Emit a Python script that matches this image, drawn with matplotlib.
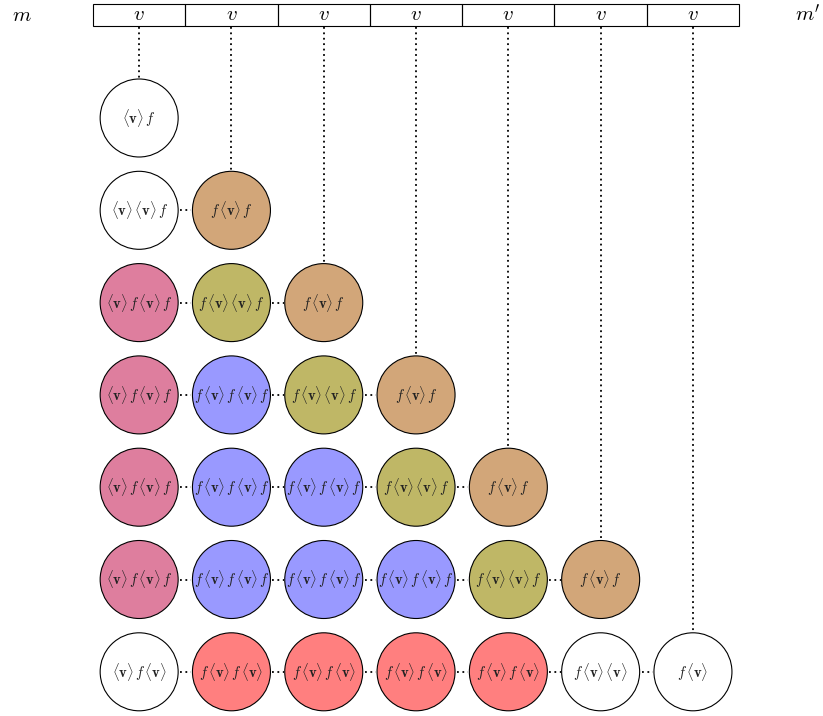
import matplotlib
matplotlib.use("Agg")
import matplotlib.pyplot as plt
from matplotlib.patches import Circle, Rectangle

plt.rcParams['mathtext.fontset'] = 'cm'

# cell contents per row (row i has i+1 circles)
WH = "#ffffff"
TAN = "#d2a679"
PINK = "#de7e9e"
OLIVE = "#bfb766"
BLUE = "#9999ff"
RED = "#ff7f7f"

V = r"\langle\mathbf{v}\rangle"
A = "$" + V + r"\, f$"
AA = "$" + V + r"\," + V + r"\, f$"
FAF = r"$f\," + V + r"\, f$"
AFAF = "$" + V + r"\, f\," + V + r"\, f$"
FAAF = r"$f\," + V + r"\," + V + r"\, f$"
FAFAF = r"$f\," + V + r"\, f\," + V + r"\, f$"
AFA = "$" + V + r"\, f\," + V + "$"
FAFA = r"$f\," + V + r"\, f\," + V + "$"
FAA = r"$f\," + V + r"\," + V + "$"
FA = r"$f\," + V + "$"

labels = [
    [A],
    [AA, FAF],
    [AFAF, FAAF, FAF],
    [AFAF, FAFAF, FAAF, FAF],
    [AFAF, FAFAF, FAFAF, FAAF, FAF],
    [AFAF, FAFAF, FAFAF, FAFAF, FAAF, FAF],
    [AFA, FAFA, FAFA, FAFA, FAFA, FAA, FA],
]
colors = [
    [WH],
    [WH, TAN],
    [PINK, OLIVE, TAN],
    [PINK, BLUE, OLIVE, TAN],
    [PINK, BLUE, BLUE, OLIVE, TAN],
    [PINK, BLUE, BLUE, BLUE, OLIVE, TAN],
    [WH, RED, RED, RED, RED, WH, WH],
]
top_labels = [r"$v$"] * 7

fig = plt.figure(figsize=(8.23, 7.16), dpi=100)
ax = fig.add_axes([0, 0, 1, 1])
ax.set_xlim(0, 823)
ax.set_ylim(716, 0)
ax.set_aspect('equal')
ax.axis('off')

x0, step = 93.0, 92.3
box_top, box_bot = 4.0, 26.0
y_row0 = 118.0
r = 39.0
dots = dict(color='black', lw=1.3, linestyle=(0, (1, 2)))

for j, t in enumerate(top_labels):
    ax.add_patch(Rectangle((x0 + j * step, box_top), step, box_bot - box_top,
                           fill=False, ec='black', lw=0.8))
    ax.text(x0 + (j + 0.5) * step, (box_top + box_bot) / 2 - 1, t,
            ha='center', va='center', fontsize=15)
    # dotted line down to the diagonal circle
    cx = x0 + (j + 0.5) * step
    ax.plot([cx, cx], [box_bot + 1, y_row0 + j * step - r], **dots)

ax.text(22, 15, r"$m$", ha='center', va='center', fontsize=15)
ax.text(808, 15, r"$m'$", ha='center', va='center', fontsize=15)

for i, row in enumerate(labels):
    cy = y_row0 + i * step
    for j, lab in enumerate(row):
        cx = x0 + (j + 0.5) * step
        ax.add_patch(Circle((cx, cy), r, fc=colors[i][j], ec='black', lw=0.8))
        ax.text(cx, cy, lab, ha='center', va='center', fontsize=10.5,
                color='#222222')
        if j > 0:
            ax.plot([cx - step + r + 2, cx - r - 1], [cy, cy], **dots)

fig.savefig("out.png", dpi=100)
